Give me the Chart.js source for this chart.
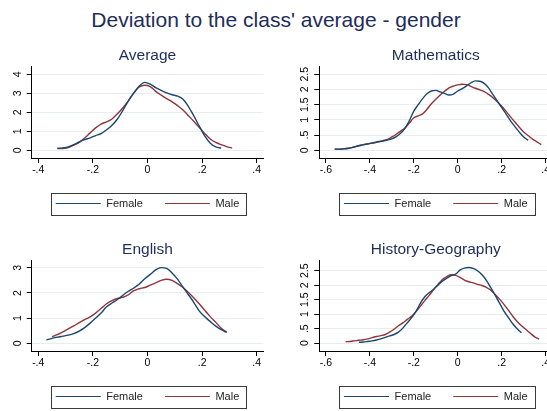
<!DOCTYPE html>
<html>
<head>
<meta charset="utf-8">
<title>Deviation to the class' average - gender</title>
<script src="https://cdn.jsdelivr.net/npm/chart.js@4.4.1/dist/chart.umd.min.js"></script>
<style>
html, body { margin: 0; padding: 0; background: #fff; }
body { width: 547px; height: 411px; overflow: hidden; position: relative; font-family: 'Liberation Sans', Arial, sans-serif; }
#mainTitle { position: absolute; left: 0; top: 7px; width: 552px; text-align: center; font-size: 21px; line-height: 26px; color: #1e2d5a; }
.panel { position: absolute; }
.panel canvas { display: block; }
</style>
</head>
<body>
<div id="mainTitle">Deviation to the class' average - gender</div>
<div class="panel" style="left:0;top:40px;width:273px;height:179px"><canvas id="averageChart"></canvas></div>
<div class="panel" style="left:273px;top:40px;width:290px;height:179px"><canvas id="mathChart"></canvas></div>
<div class="panel" style="left:0;top:234px;width:273px;height:178px"><canvas id="englishChart"></canvas></div>
<div class="panel" style="left:273px;top:234px;width:290px;height:178px"><canvas id="histGeoChart"></canvas></div>

<script>
const seriesNames = ['Female', 'Male'];

const xTicksNarrow = [-0.4, -0.2, 0, 0.2, 0.4];
const xLabelsNarrow = ['-.4', '-.2', '0', '.2', '.4'];
const xTicksWide = [-0.6, -0.4, -0.2, 0, 0.2, 0.4];
const xLabelsWide = ['-.6', '-.4', '-.2', '0', '.2', '.4'];

const yTicksAverage = [0, 1, 2, 3, 4];
const yLabelsAverage = ['0', '1', '2', '3', '4'];
const yTicksEnglish = [0, 1, 2, 3];
const yLabelsEnglish = ['0', '1', '2', '3'];
const yTicksHalf = [0, 0.5, 1, 1.5, 2, 2.5];
const yLabelsHalf = ['0', '.5', '1', '1.5', '2', '2.5'];

// Average
const averageX = [-0.33, -0.31, -0.29, -0.27, -0.25, -0.23, -0.21, -0.19, -0.17, -0.15, -0.13, -0.11, -0.09, -0.07, -0.05, -0.03, -0.01,
    0.01, 0.03, 0.05, 0.07, 0.09, 0.11, 0.13, 0.15, 0.17, 0.19, 0.21, 0.23, 0.25, 0.27, 0.29, 0.31];
const averageFemale = [0.11, 0.13, 0.18, 0.30, 0.44, 0.56, 0.66, 0.78, 0.88, 1.08, 1.32, 1.65, 2.10, 2.60, 3.02, 3.38, 3.57,
    3.48, 3.30, 3.15, 3.02, 2.92, 2.85, 2.68, 2.30, 1.80, 1.26, 0.75, 0.38, 0.18, 0.12, null, null];
const averageMale = [0.09, 0.10, 0.15, 0.28, 0.42, 0.65, 0.92, 1.18, 1.38, 1.50, 1.65, 1.92, 2.24, 2.60, 3.02, 3.33, 3.42,
    3.35, 3.10, 2.90, 2.72, 2.55, 2.35, 2.12, 1.82, 1.52, 1.20, 0.88, 0.60, 0.42, 0.30, 0.20, 0.12];

// Mathematics
const mathX = [-0.56, -0.54, -0.52, -0.50, -0.48, -0.46, -0.44, -0.42, -0.40, -0.38, -0.36, -0.34, -0.32, -0.30, -0.28, -0.26,
    -0.24, -0.22, -0.20, -0.18, -0.16, -0.14, -0.12, -0.10, -0.08, -0.06, -0.04, -0.02, 0.00, 0.02, 0.04, 0.06,
    0.08, 0.10, 0.12, 0.14, 0.16, 0.18, 0.20, 0.22, 0.24, 0.26, 0.28, 0.30, 0.32, 0.34, 0.36, 0.38];
const mathFemale = [0.04, 0.04, 0.05, 0.06, 0.09, 0.13, 0.17, 0.20, 0.23, 0.26, 0.29, 0.31, 0.34, 0.38, 0.45, 0.56,
    0.72, 0.98, 1.29, 1.50, 1.70, 1.86, 1.95, 1.97, 1.92, 1.87, 1.82, 1.85, 1.95, 2.03, 2.12, 2.22,
    2.28, 2.27, 2.20, 2.05, 1.83, 1.62, 1.40, 1.19, 0.97, 0.78, 0.60, 0.44, 0.33, null, null, null];
const mathMale = [0.04, 0.04, 0.05, 0.07, 0.10, 0.14, 0.17, 0.20, 0.22, 0.25, 0.28, 0.32, 0.36, 0.44, 0.53, 0.63,
    0.74, 0.90, 1.07, 1.13, 1.20, 1.35, 1.53, 1.68, 1.82, 1.94, 2.05, 2.11, 2.15, 2.17, 2.16, 2.10,
    2.04, 1.99, 1.93, 1.84, 1.73, 1.60, 1.45, 1.28, 1.10, 0.93, 0.76, 0.60, 0.49, 0.37, 0.28, 0.19];

// English
const englishX = [-0.37, -0.35, -0.33, -0.31, -0.29, -0.27, -0.25, -0.23, -0.21, -0.19, -0.17, -0.15, -0.13, -0.11, -0.09, -0.07, -0.05,
    -0.03, -0.01, 0.01, 0.03, 0.05, 0.07, 0.09, 0.11, 0.13, 0.15, 0.17, 0.19, 0.21, 0.23, 0.25, 0.27, 0.29];
const englishFemale = [0.13, 0.19, 0.24, 0.28, 0.32, 0.38, 0.48, 0.62, 0.80, 1.00, 1.20, 1.45, 1.60, 1.74, 1.91, 2.07, 2.20,
    2.36, 2.57, 2.74, 2.92, 3.01, 2.98, 2.80, 2.55, 2.23, 1.93, 1.62, 1.28, 1.05, 0.86, 0.68, 0.54, 0.43];
const englishMale = [null, 0.26, 0.34, 0.45, 0.57, 0.69, 0.82, 0.94, 1.05, 1.20, 1.38, 1.57, 1.70, 1.78, 1.83, 1.93, 2.09,
    2.17, 2.22, 2.31, 2.40, 2.50, 2.55, 2.50, 2.37, 2.22, 2.02, 1.80, 1.56, 1.31, 1.06, 0.83, 0.60, 0.44];

// History-Geography
const histGeoX = [-0.51, -0.49, -0.47, -0.45, -0.43, -0.41, -0.39, -0.37, -0.35, -0.33, -0.31, -0.29, -0.27, -0.25, -0.23,
    -0.21, -0.19, -0.17, -0.15, -0.13, -0.11, -0.09, -0.07, -0.05, -0.03, -0.01, 0.01, 0.03, 0.05, 0.07,
    0.09, 0.11, 0.13, 0.15, 0.17, 0.19, 0.21, 0.23, 0.25, 0.27, 0.29, 0.31, 0.33, 0.35, 0.37];
const histGeoFemale = [null, null, null, 0.03, 0.04, 0.06, 0.08, 0.11, 0.15, 0.20, 0.25, 0.30, 0.38, 0.52, 0.70,
    0.88, 1.10, 1.38, 1.60, 1.74, 1.86, 2.00, 2.14, 2.24, 2.33, 2.38, 2.52, 2.59, 2.61, 2.58,
    2.50, 2.36, 2.17, 1.92, 1.66, 1.38, 1.11, 0.89, 0.67, 0.50, 0.36, null, null, null, null];
const histGeoMale = [0.05, 0.06, 0.08, 0.10, 0.12, 0.15, 0.19, 0.23, 0.26, 0.30, 0.38, 0.48, 0.60, 0.70, 0.82,
    0.93, 1.09, 1.28, 1.47, 1.65, 1.85, 2.03, 2.20, 2.30, 2.36, 2.34, 2.27, 2.18, 2.12, 2.08,
    2.03, 1.99, 1.93, 1.83, 1.68, 1.52, 1.34, 1.14, 0.93, 0.75, 0.60, 0.47, 0.34, 0.22, 0.14];

const femaleColor = '#1a476f';
const maleColor = '#90353b';
const titleColor = '#1e2d5a';
const gridColor = '#e6eef0';

Chart.defaults.font.family = "'Liberation Sans', Arial, Helvetica, sans-serif";
Chart.defaults.color = '#000';

// Stata-like box around the legend
const legendBorder = {
    id: 'legendBorder',
    afterDraw(chart) {
        const boxes = chart.legend && chart.legend.legendHitBoxes;
        if (!boxes || !boxes.length) return;
        const first = boxes[0];
        const last = boxes[boxes.length - 1];
        const left = Math.round(first.left - 5);
        const right = Math.round(last.left + last.width + 7);
        const top = Math.round(first.top + first.height / 2 - 11);
        const ctx = chart.ctx;
        ctx.save();
        ctx.strokeStyle = '#3a3a3a';
        ctx.lineWidth = 1;
        ctx.strokeRect(left + 0.5, top + 0.5, right - left, 22);
        ctx.restore();
    }
};

function fixedTicks(values) {
    return scale => { scale.ticks = values.map(v => ({ value: v })); };
}

function makeChart(canvasId, title, xs, female, male, cfg) {
    const toPoints = ys => xs.map((x, i) => ({ x: x, y: ys[i] })).filter(p => p.y !== null);

    return new Chart(document.getElementById(canvasId), {
        type: 'line',
        data: {
            datasets: [
                { label: seriesNames[0], data: toPoints(female), borderColor: femaleColor, backgroundColor: femaleColor },
                { label: seriesNames[1], data: toPoints(male), borderColor: maleColor, backgroundColor: maleColor }
            ]
        },
        options: {
            responsive: true,
            maintainAspectRatio: false,
            animation: false,
            layout: { padding: { left: 0, right: cfg.padRight, top: 0, bottom: 0 } },
            elements: {
                point: { radius: 0 },
                line: { borderWidth: 1.4, cubicInterpolationMode: 'monotone', fill: false }
            },
            plugins: {
                title: {
                    display: true, text: title, color: titleColor, fullSize: false,
                    font: { size: 15.5, weight: 'normal' }, padding: { top: 6, bottom: 2 }
                },
                legend: {
                    position: 'bottom', fullSize: false,
                    labels: {
                        usePointStyle: true, pointStyle: 'line', pointStyleWidth: 45,
                        padding: 22, color: '#222', font: { size: 11 }
                    }
                },
                tooltip: { enabled: false }
            },
            scales: {
                x: {
                    type: 'linear',
                    min: cfg.xMin, max: cfg.xMax,
                    afterBuildTicks: fixedTicks(cfg.xTicks),
                    afterFit: s => { s.height = 18; },
                    grid: { drawOnChartArea: false, tickLength: 5, tickColor: '#000' },
                    border: { color: '#000', width: 1 },
                    ticks: {
                        autoSkip: false, minRotation: 0, maxRotation: 0, padding: 1,
                        font: { size: 10.5 }, color: '#000',
                        callback: (v, i) => cfg.xLabels[i]
                    }
                },
                y: {
                    type: 'linear',
                    min: cfg.yMin, max: cfg.yMax,
                    afterBuildTicks: fixedTicks(cfg.yTicks),
                    afterFit: s => { s.width = cfg.yWidth; },
                    grid: { color: gridColor, tickLength: 5, tickColor: '#000' },
                    border: { color: '#000', width: 1 },
                    ticks: {
                        minRotation: 90, maxRotation: 90, crossAlign: 'center', padding: cfg.yPad,
                        font: { size: 10.5 }, color: '#000',
                        callback: (v, i) => cfg.yLabels[i]
                    }
                }
            }
        },
        plugins: [legendBorder]
    });
}

makeChart('averageChart', 'Average', averageX, averageFemale, averageMale, {
    xMin: -0.424, xMax: 0.424, xTicks: xTicksNarrow, xLabels: xLabelsNarrow,
    yMin: -0.4, yMax: 4.4, yTicks: yTicksAverage, yLabels: yLabelsAverage,
    yWidth: 31.7, yPad: 5.5, padRight: 9.7
});

makeChart('mathChart', 'Mathematics', mathX, mathFemale, mathMale, {
    xMin: -0.63, xMax: 0.43, xTicks: xTicksWide, xLabels: xLabelsWide,
    yMin: -0.25, yMax: 2.75, yTicks: yTicksHalf, yLabels: yLabelsHalf,
    yWidth: 46.3, yPad: 1.5, padRight: 10.7
});

makeChart('englishChart', 'English', englishX, englishFemale, englishMale, {
    xMin: -0.424, xMax: 0.424, xTicks: xTicksNarrow, xLabels: xLabelsNarrow,
    yMin: -0.31, yMax: 3.29, yTicks: yTicksEnglish, yLabels: yLabelsEnglish,
    yWidth: 31.7, yPad: 5.5, padRight: 9.7
});

makeChart('histGeoChart', 'History-Geography', histGeoX, histGeoFemale, histGeoMale, {
    xMin: -0.63, xMax: 0.43, xTicks: xTicksWide, xLabels: xLabelsWide,
    yMin: -0.27, yMax: 2.85, yTicks: yTicksHalf, yLabels: yLabelsHalf,
    yWidth: 46.3, yPad: 1.5, padRight: 10.7
});
</script>
</body>
</html>
